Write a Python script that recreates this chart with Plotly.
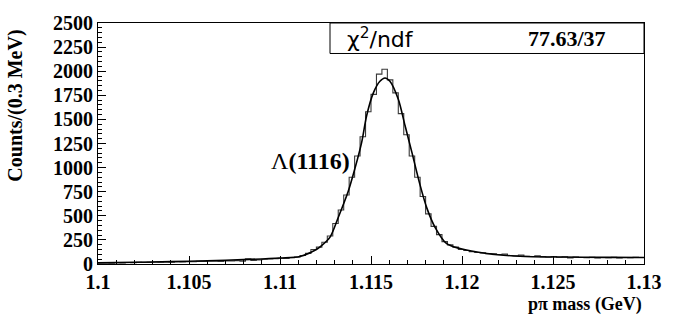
import numpy as np
import plotly.graph_objects as go

# Histogram: 100 bins of 0.3 MeV from 1.100 to 1.130 GeV
x_min, x_max, bin_w = 1.100, 1.130, 0.0003
counts = [
    10, 12, 8, 14, 12, 15, 14, 18, 16, 17,
    20, 18, 22, 19, 24, 22, 25, 23, 27, 26,
    28, 30, 27, 32, 31, 33, 30, 55, 38, 42,
    50, 52, 55, 60, 58, 66, 72, 88, 110, 150,
    175, 225, 290, 420, 560, 715, 900, 1120, 1320, 1580,
    1760, 1970, 2020, 1910, 1775, 1560, 1340, 1120, 900, 700,
    520, 390, 305, 232, 198, 175, 150, 140, 128, 120,
    115, 108, 105, 98, 102, 88, 85, 92, 80, 78,
    84, 76, 72, 78, 70, 74, 64, 72, 68, 66,
    70, 64, 68, 66, 70, 64, 68, 66, 70, 68,
]

# Fit curve
fit_mass = [1.1000, 1.1020, 1.1040, 1.1060, 1.1080, 1.1100, 1.1111, 1.1120, 1.1122,
            1.11275, 1.1132, 1.11375, 1.11412, 1.11449, 1.11476, 1.11513, 1.11549,
            1.11577, 1.11604, 1.1165, 1.11687, 1.11724, 1.11769, 1.11806, 1.11852,
            1.11916, 1.11989, 1.12136, 1.12319, 1.12538, 1.1280, 1.1300]
fit_vals = [12, 18, 25, 33, 45, 62, 78, 150, 177,
            279, 483, 755, 993, 1265, 1538, 1775, 1895,
            1929, 1895, 1708, 1436, 1163, 823, 585, 381,
            211, 160, 109, 80, 72, 69, 68]

y_ticks = list(range(0, 2501, 250))
x_ticks = [1.1, 1.105, 1.11, 1.115, 1.12, 1.125, 1.13]
x_tick_text = ["1.1", "1.105", "1.11", "1.115", "1.12", "1.125", "1.13"]

edges = x_min + bin_w * np.arange(len(counts) + 1)
step_y = counts + [counts[-1]]

serif = "Liberation Serif"

fig = go.Figure()
fig.add_trace(go.Scatter(
    x=edges, y=step_y, mode="lines", line_shape="hv",
    line=dict(color="#3a3a3a", width=1.1), hoverinfo="skip", showlegend=False))
fig.add_trace(go.Scatter(
    x=fit_mass, y=fit_vals, mode="lines", line_shape="spline",
    line=dict(color="black", width=1.6, smoothing=0.8), hoverinfo="skip", showlegend=False))

fig.update_layout(
    width=687, height=320,
    margin=dict(l=98, r=43, t=19, b=56),
    plot_bgcolor="white", paper_bgcolor="white",
    font=dict(family=serif, color="black"),
    showlegend=False,
)
fig.update_xaxes(
    range=[x_min, x_max], tickvals=x_ticks, ticktext=["<b>%s</b>" % t for t in x_tick_text],
    ticks="inside", ticklen=8, tickwidth=1, tickcolor="black",
    minor=dict(ticks="inside", ticklen=4, dtick=0.001, tickcolor="black", showgrid=False),
    showline=True, linecolor="black", linewidth=1, mirror=True,
    showgrid=False, zeroline=False,
    tickfont=dict(family=serif, size=20, color="black"),
)
fig.update_yaxes(
    range=[0, 2500], tickvals=y_ticks, ticktext=["<b>%d</b>" % v for v in y_ticks],
    ticks="inside", ticklen=8, tickwidth=1, tickcolor="black",
    minor=dict(ticks="inside", ticklen=4, dtick=50, tickcolor="black", showgrid=False),
    showline=True, linecolor="black", linewidth=1, mirror=True,
    showgrid=False, zeroline=False,
    tickfont=dict(family=serif, size=20, color="black"),
)

# Stats box
fig.add_shape(type="rect", xref="paper", yref="paper",
              x0=(330 - 98) / 546, x1=1.0, y0=1 - 31 / 245, y1=1.0,
              line=dict(color="black", width=1), fillcolor="white", layer="above")
fig.add_annotation(xref="paper", yref="paper", x=(345 - 98) / 546, y=1 - 15.5 / 245,
                   text="χ<sup>2</sup>/ndf", showarrow=False, xanchor="left", yanchor="middle",
                   font=dict(family="DejaVu Sans", size=22, color="black"))
fig.add_annotation(xref="paper", yref="paper", x=(608 - 98) / 546, y=1 - 15.5 / 245,
                   text="<b>77.63/37</b>", showarrow=False, xanchor="right", yanchor="middle",
                   font=dict(family=serif, size=22, color="black"))
# Peak label
fig.add_annotation(xref="paper", yref="paper", x=(269 - 98) / 546, y=(264 - 159) / 245,
                   text="Λ<b>(1116)</b>", showarrow=False, xanchor="left", yanchor="middle",
                   font=dict(family=serif, size=24, color="black"))
# Axis titles
fig.add_annotation(xref="paper", yref="paper", x=1.0, y=-41 / 245,
                   text="<b>pπ mass (GeV)</b>", showarrow=False, xanchor="right", yanchor="middle",
                   font=dict(family=serif, size=18, color="black"))
fig.add_annotation(xref="paper", yref="paper", x=-82 / 546, y=1 - 84 / 245,
                   text="<b>Counts/(0.3 MeV)</b>", showarrow=False, textangle=-90,
                   xanchor="center", yanchor="middle",
                   font=dict(family=serif, size=20, color="black"))

fig.write_html("out.html")
